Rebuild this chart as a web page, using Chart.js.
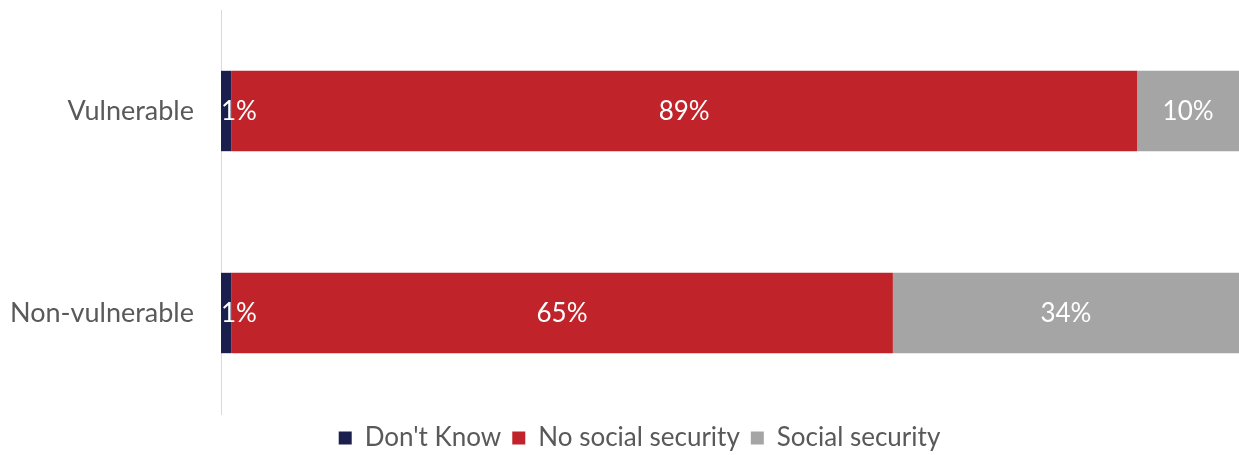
<!DOCTYPE html>
<html>
<head>
<meta charset="utf-8">
<script src="https://cdn.jsdelivr.net/npm/chart.js@4"></script>
<style>
  html, body { margin: 0; padding: 0; background: #fff; }
  #wrap { width: 1239px; height: 455px; }
</style>
</head>
<body>
<div id="wrap"><canvas id="securityChart"></canvas></div>
<script>
const groups = ['Vulnerable', 'Non-vulnerable'];
const dontKnow = [1, 1];
const noSocialSecurity = [89, 65];
const socialSecurity = [10, 34];

const FONT = "Lato, 'Open Sans', sans-serif";

// Writes the percentage in the middle of every segment
const segmentLabels = {
    id: 'segmentLabels',
    afterDatasetsDraw(chart) {
        const ctx = chart.ctx;
        const left = chart.chartArea.left;
        ctx.save();
        ctx.font = '26px ' + FONT;
        ctx.fillStyle = '#ffffff';
        ctx.textAlign = 'center';
        ctx.textBaseline = 'middle';
        chart.data.datasets.forEach((ds, i) => {
            chart.getDatasetMeta(i).data.forEach((bar, j) => {
                const text = ds.data[j] + '%';
                const w = ctx.measureText(text).width;
                const x = Math.max((bar.base + bar.x) / 2, left + w / 2);
                ctx.fillText(text, x, bar.y + 1);
            });
        });
        ctx.restore();
    }
};

// Nudge the legend row a little to the right
const legendShift = {
    id: 'legendShift',
    afterLayout(chart) {
        if (chart.legend) {
            chart.legend.left += 40;
            chart.legend.adjustHitBoxes && chart.legend.adjustHitBoxes();
        }
    }
};

const securityChart = new Chart(document.getElementById('securityChart'), {
    type: 'bar',
    data: {
        labels: groups,
        datasets: [
            { label: "Don't Know", data: dontKnow, backgroundColor: '#1a1f4e' },
            { label: 'No social security', data: noSocialSecurity, backgroundColor: '#c0232a' },
            { label: 'Social security', data: socialSecurity, backgroundColor: '#a5a5a5' }
        ]
    },
    options: {
        indexAxis: 'y',
        responsive: true,
        maintainAspectRatio: false,
        animation: false,
        layout: { padding: { top: 10, right: 0, bottom: -6, left: 0 } },
        barPercentage: 0.796,
        categoryPercentage: 0.5,
        plugins: {
            tooltip: { enabled: false },
            legend: {
                position: 'bottom',
                labels: {
                    font: { family: FONT, size: 26, lineHeight: 1 },
                    color: '#595959',
                    boxWidth: 13,
                    boxHeight: 13,
                    padding: 11
                }
            }
        },
        scales: {
            x: {
                stacked: true,
                min: 0,
                max: 100,
                display: false
            },
            y: {
                stacked: true,
                grid: { display: false, drawTicks: false },
                border: { color: '#d9d9d9', width: 1 },
                ticks: {
                    font: { family: FONT, size: 27 },
                    color: '#595959',
                    padding: 27
                },
                afterFit(scale) {
                    scale.width = 221;
                    // no extra vertical room for the tick labels
                    scale.paddingTop = 0;
                    scale.paddingBottom = 0;
                }
            }
        }
    },
    plugins: [segmentLabels, legendShift]
});
</script>
</body>
</html>
